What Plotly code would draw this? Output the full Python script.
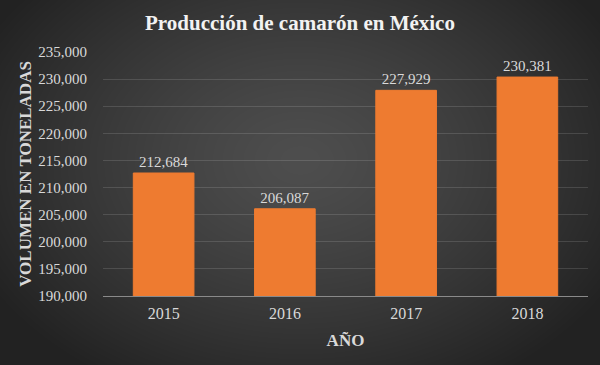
import base64, struct, zlib
import numpy as np
import plotly.graph_objects as go

# ---- data ----
years = ["2015", "2016", "2017", "2018"]
volumes = [212684, 206087, 227929, 230381]
value_labels = ["212,684", "206,087", "227,929", "230,381"]

W, H = 600, 365
ML, MR, MT, MB = 103, 12, 52, 69
PW, PH = W - ML - MR, H - MT - MB

# ---- radial gradient background as PNG data URI ----
def make_png(arr):
    h, w, _ = arr.shape
    raw = b"".join(b"\x00" + arr[i].tobytes() for i in range(h))
    def chunk(t, payload):
        c = struct.pack(">I", len(payload)) + t + payload
        return c + struct.pack(">I", zlib.crc32(t + payload) & 0xFFFFFFFF)
    return (b"\x89PNG\r\n\x1a\n" + chunk(b"IHDR", struct.pack(">IIBBBBB", w, h, 8, 2, 0, 0, 0))
            + chunk(b"IDAT", zlib.compress(raw, 9)) + chunk(b"IEND", b""))

gy, gx = np.mgrid[0:H, 0:W]
dist = np.sqrt(((gx - 300) / 360.0) ** 2 + ((gy - 160) / 260.0) ** 2)
dist = np.clip(dist, 0, 1)
shade = 78.0 + (34.0 - 78.0) * dist ** 1.3
img = np.stack([shade, shade, shade], axis=-1).astype(np.uint8)
bg_uri = "data:image/png;base64," + base64.b64encode(make_png(img)).decode()

serif = "Liberation Serif, Times New Roman, serif"
bar_color = "#ee7b30"

fig = go.Figure()
fig.add_trace(go.Bar(
    x=years, y=volumes,
    text=value_labels, textposition="outside", cliponaxis=False,
    textfont=dict(family=serif, size=15, color="#d9d9d9"),
    marker=dict(color=bar_color, line=dict(color=bar_color, width=1)),
))

fig.add_layout_image(dict(
    source=bg_uri, xref="paper", yref="paper",
    x=-ML / PW, y=1 + MT / PH, sizex=W / PW, sizey=H / PH,
    xanchor="left", yanchor="top", sizing="stretch", layer="below",
))

fig.update_layout(
    width=W, height=H,
    margin=dict(l=ML, r=MR, t=MT, b=MB),
    paper_bgcolor="#3a3a3a",
    plot_bgcolor="rgba(0,0,0,0)",
    bargap=0.5,
    showlegend=False,
    title=dict(text="<b>Producción de camarón en México</b>", x=0.5, xref="container",
               y=1 - 23 / H, yref="container", yanchor="middle", xanchor="center",
               font=dict(family=serif, size=21, color="#f2f2f2")),
    xaxis=dict(
        type="category",
        showgrid=False, showline=True, linecolor="#8a8a8a", linewidth=1,
        ticks="outside", ticklen=3, tickcolor="rgba(0,0,0,0)",
        tickfont=dict(family=serif, size=16, color="#d9d9d9"),
        title=dict(text="<b>AÑO</b>", font=dict(family=serif, size=17, color="#d9d9d9"), standoff=12),
    ),
    yaxis=dict(
        range=[190000, 235000], dtick=5000, tickformat=",",
        showgrid=True, gridcolor="rgba(255,255,255,0.13)", gridwidth=1,
        zeroline=False, showline=False,
        ticks="outside", ticklen=12, tickcolor="rgba(0,0,0,0)",
        tickfont=dict(family=serif, size=15, color="#d9d9d9"),
        title=dict(text="<b>VOLUMEN EN TONELADAS</b>", font=dict(family=serif, size=17, color="#d9d9d9"), standoff=2),
    ),
)

fig.write_html("out.html", post_script="document.body.style.margin='0';",
               config={"displayModeBar": False})
